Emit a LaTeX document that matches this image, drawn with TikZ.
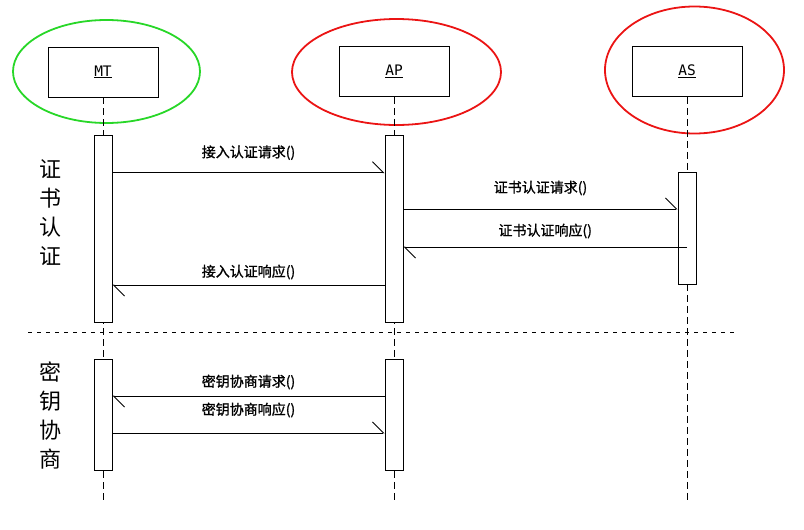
\documentclass[tikz,border=0pt]{standalone}
\usepackage{fontspec}
\newfontfamily\cjk{Noto Sans CJK SC}
\newfontfamily\cjkb[FakeBold=1.2]{Noto Sans CJK SC}
\setmonofont{DejaVu Sans Mono}
\usetikzlibrary{shapes.geometric,arrows.meta}
\definecolor{ringgreen}{RGB}{40,215,40}
\definecolor{ringred}{RGB}{235,20,20}

\begin{document}
\begin{tikzpicture}[x=1pt,y=-1pt,
  obj/.style={rectangle,draw,line width=0.9pt,minimum width=110pt,minimum height=50pt,font=\fontsize{14.5}{16}\selectfont\ttfamily},
  ring/.style={ellipse,draw,line width=1.8pt,inner sep=0pt},
  bar/.style={rectangle,draw,fill=white,line width=0.9pt,minimum width=18pt,inner sep=0pt},
  life/.style={line width=0.9pt,dash pattern=on 7pt off 4pt},
  sep/.style={line width=0.8pt,dash pattern=on 4pt off 5pt},
  msg/.style={line width=0.9pt,-{Straight Barb[harpoon,length=11pt,width=22pt,line width=0.9pt]}},
  lbl/.style={midway,font=\cjkb\fontsize{14}{16}\selectfont},
  side/.style={align=center,font=\cjk\fontsize{22}{29}\selectfont}]
\useasboundingbox (0,0) rectangle (804,530);

% groups
\node[ring,ringgreen,minimum width=187pt,minimum height=103pt] (mtring) at (106.5,71.5) {};
\node[ring,ringred,minimum width=209pt,minimum height=106pt] (apring) at (396.5,72) {};
\node[ring,ringred,minimum width=179pt,minimum height=127pt] (asring) at (694.5,70) {};

% objects
\node[obj] (mt) at (103,72) {\underline{MT}};
\node[obj] (ap) at (394,71.5) {\underline{AP}};
\node[obj] (as) at (687,71.5) {\underline{AS}};

% lifelines
\coordinate (bottom) at (0,500);
\draw[life] (mt.south) -- (mt |- bottom);
\draw[life] (ap.south) -- (ap |- bottom);
\draw[life] (as.south) -- (as |- bottom);

% activations
\node[bar,minimum height=187pt] (mtA) at (103,228.5) {};
\node[bar,minimum height=187pt] (apA) at (394,228.5) {};
\node[bar,minimum height=112pt] (asA) at (687,228) {};
\node[bar,minimum height=111pt] (mtB) at (103,414.5) {};
\node[bar,minimum height=111pt] (apB) at (394,414.5) {};

% phases
\coordinate (sepL) at (28,332);
\coordinate (sepR) at (737,332);
\draw[sep] (sepL) -- (sepR);
\node[side] (cert) at (50,212.5) {证\\书\\认\\证};
\node[side] (key) at (50,416) {密\\钥\\协\\商};

% messages
\coordinate (y1) at (0,172.7);
\coordinate (y2) at (0,209);
\coordinate (y3) at (0,247);
\coordinate (y4) at (0,285);
\coordinate (y5) at (0,396);
\coordinate (y6) at (0,433);
\draw[msg] (mtA.east |- y1) -- node[lbl,yshift=20pt] {接入认证请求()} (apA.west |- y1);
\draw[msg] (apA.east |- y2) -- node[lbl,yshift=21pt] {证书认证请求()} (asA.west |- y2);
\draw[msg] (asA.center |- y3) -- node[lbl,yshift=16pt] {证书认证响应()} (apA.east |- y3);
\draw[msg] (apA.west |- y4) -- node[lbl,yshift=13pt] {接入认证响应()} (mtA.east |- y4);
\draw[msg] (apB.west |- y5) -- node[lbl,yshift=14pt] {密钥协商请求()} (mtB.east |- y5);
\draw[msg] (mtB.east |- y6) -- node[lbl,yshift=23pt] {密钥协商响应()} (apB.west |- y6);
\end{tikzpicture}
\end{document}
